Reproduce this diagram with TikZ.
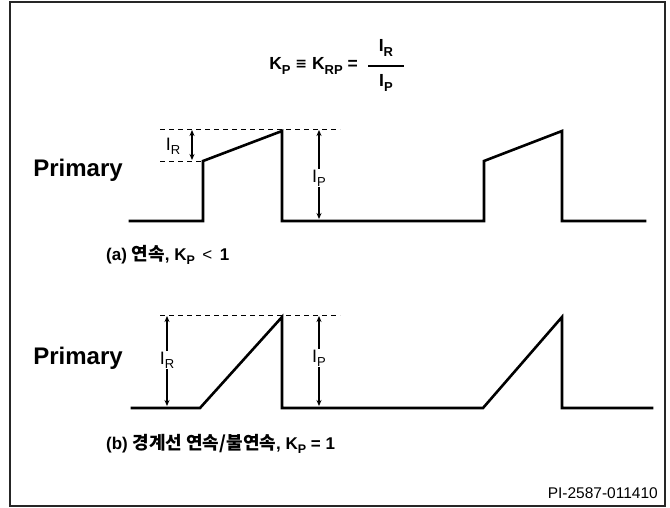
\documentclass[tikz,border=0pt]{standalone}
\usepackage{fontspec}
\setmainfont{Liberation Sans}
\newfontfamily\krfont{Noto Sans CJK KR}
\newfontfamily\symfont{DejaVu Sans}
\usetikzlibrary{arrows.meta}
\newcommand\subfont{\fontsize{10}{11}\selectfont}
\newcommand\sbs[2][0.45ex]{\raisebox{-#1}{\subfont #2}}
\newcommand\kr[1]{{\krfont\bfseries\fontsize{18}{20}\selectfont #1}}
\begin{document}
\begin{tikzpicture}[x=1pt,y=-1pt,
  frame/.style={line width=2pt, draw=black!85},
  wave/.style={line width=2.6pt, line join=miter, line cap=rect},
  guide/.style={line width=1pt, dash pattern=on 5pt off 4pt},
  dim/.style={line width=1.2pt, {Stealth[length=6pt,width=5pt]}-{Stealth[length=6pt,width=5pt]}},
  dimlbl/.style={font=\renewcommand\subfont{\fontsize{13}{14}\selectfont}\fontsize{18}{20}\selectfont, inner sep=1pt, fill=white},
  prim/.style={font=\fontsize{24}{27}\selectfont\bfseries},
  capt/.style={font=\renewcommand\subfont{\fontsize{12.5}{14}\selectfont}\fontsize{17}{19}\selectfont\bfseries, anchor=west, inner sep=0pt},
  formula/.style={font=\renewcommand\subfont{\fontsize{13}{14}\selectfont}\fontsize{17.5}{20}\selectfont\bfseries, inner sep=0pt},
  code/.style={font=\fontsize{15.5}{17}\selectfont, anchor=east, inner sep=0pt}]
\useasboundingbox (0,0) rectangle (670,507);
\draw[frame] (10,2) rectangle (665,506);

% formula
\node[formula, anchor=east] (lhs) at (358,66) {K\sbs{P} {\symfont\fontsize{14}{16}\selectfont\raisebox{0.15ex}{≡}} K\sbs{RP} =};
\node[formula] (num) at (386,48) {I\sbs{R}};
\node[formula] (den) at (386,83) {I\sbs{P}};
\coordinate (barL) at (368,66);
\coordinate (barR) at (404,66);
\draw[line width=1.2pt] (barL) -- (barR);

% (a) continuous
\node[prim] (pa) at (78,170) {Primary};
\coordinate (a0) at (130,221);
\coordinate (a1) at (203,221);
\coordinate (a2) at (203,161);
\coordinate (a3) at (282,131);
\coordinate (a4) at (282,221);
\coordinate (a5) at (484,221);
\coordinate (a6) at (484,161);
\coordinate (a7) at (562,131);
\coordinate (a8) at (562,221);
\coordinate (a9) at (645,221);
\draw[wave] (a0) -- (a1) -- (a2) -- (a3) -- (a4) -- (a5) -- (a6) -- (a7) -- (a8) -- (a9);
\coordinate (gat1) at (160,129);
\coordinate (gat2) at (340,129);
\coordinate (gal1) at (160,161);
\draw[guide] (gat1) -- (gat2);
\draw[guide] (gal1) -- (a2);
\coordinate (irat) at (192,130);
\coordinate (irab) at (192,160);
\draw[dim] (irat) -- (irab);
\node[dimlbl, fill=none] (ira) at (173,146) {I\sbs[0.4ex]{R}};
\coordinate (ipat) at (319,130);
\coordinate (ipab) at (319,219);
\draw[dim] (ipat) -- (ipab);
\node[dimlbl] (ipa) at (319,178) {I\sbs[0.4ex]{P}};
\node[capt] (capa) at (106,255) {(a) \kr{연속}, K\sbs{P} {\fontseries{m}\selectfont\,<\,} 1};

% (b) boundary
\node[prim] (pb) at (78,358) {Primary};
\coordinate (b0) at (132,408);
\coordinate (b1) at (200,408);
\coordinate (b2) at (282,317);
\coordinate (b3) at (282,408);
\coordinate (b4) at (483,408);
\coordinate (b5) at (562,317);
\coordinate (b6) at (562,408);
\coordinate (b7) at (652,408);
\draw[wave] (b0) -- (b1) -- (b2) -- (b3) -- (b4) -- (b5) -- (b6) -- (b7);
\coordinate (gbt1) at (160,315);
\coordinate (gbt2) at (340,315);
\draw[guide] (gbt1) -- (gbt2);
\coordinate (irbt) at (167,316);
\coordinate (irbb) at (167,406);
\draw[dim] (irbt) -- (irbb);
\node[dimlbl] (irb) at (167,360) {I\sbs[0.4ex]{R}};
\coordinate (ipbt) at (319,316);
\coordinate (ipbb) at (319,406);
\draw[dim] (ipbt) -- (ipbb);
\node[dimlbl] (ipb) at (319,358) {I\sbs[0.4ex]{P}};
\node[capt] (capb) at (106,444) {(b) \kr{경계선 연속/불연속}, K\sbs{P} = 1};

\node[code] (pi) at (658,493) {PI-2587-011410};
\end{tikzpicture}
\end{document}
